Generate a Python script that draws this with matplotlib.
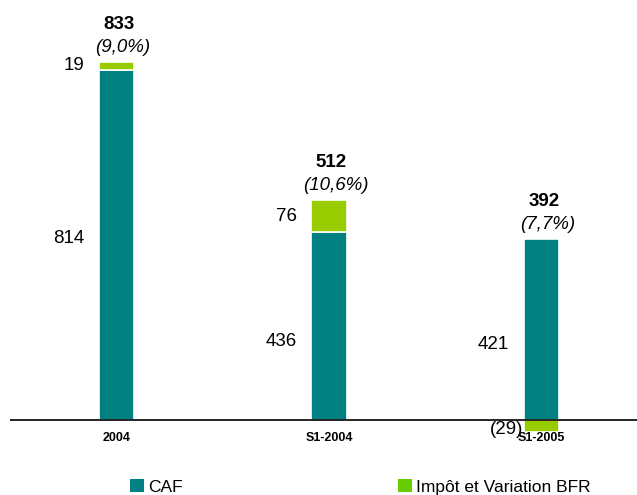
import matplotlib
matplotlib.use("Agg")
import matplotlib.pyplot as plt
from matplotlib.patches import Patch

# Data
periods = ["2004", "S1-2004", "S1-2005"]
caf = [814, 436, 421]
impot_bfr = [19, 76, -29]
totals = [833, 512, 392]
rates = ["(9,0%)", "(10,6%)", "(7,7%)"]
impot_labels = ["19", "76", "(29)"]

teal = "#008080"
green_bar = "#99CC00"
green_legend = "#66CC00"

plt.rcParams["font.family"] = ["Liberation Sans", "DejaVu Sans"]

fig = plt.figure(figsize=(6.37, 4.95), dpi=100)
ax = fig.add_axes([10 / 637, 0, 627 / 637, 1])

x = list(range(len(periods)))
width = 0.165

# stacked bars: CAF at the bottom, impot/BFR on top (or below zero when negative)
ax.bar(x, caf, width, color=teal, edgecolor="white", linewidth=1.2)
bottoms = [c if v >= 0 else 0 for c, v in zip(caf, impot_bfr)]
ax.bar(x, impot_bfr, width, bottom=bottoms, color=green_bar, edgecolor="white", linewidth=1.2)

ax.axhline(0, color="black", linewidth=1.2)

ax.set_xlim(-0.501, 2.449)
ax.set_ylim(-175, 977)
ax.axis("off")

off = 0.07
for i in x:
    # CAF value, left of the bar, near the middle
    ax.text(i - width / 2 - off, caf[i] / 2 + (15 if i == 0 else -35), str(caf[i]),
            ha="right", va="center", fontsize=13.5)
    # impot/BFR value, left of the bar
    if impot_bfr[i] >= 0:
        y_imp = caf[i] + impot_bfr[i] / 2
        ax.text(i - width / 2 - off, y_imp, impot_labels[i],
                ha="right", va="center", fontsize=13.5)
    else:
        ax.text(i - width / 2 - 0.005, -22, impot_labels[i],
                ha="right", va="center", fontsize=13.5)
    # total and margin above the bar
    top = max(totals[i], caf[i] + max(impot_bfr[i], 0))
    ax.text(i + 0.01, top + 87, str(totals[i]), ha="center", va="center",
            fontsize=13.5, fontweight="bold")
    ax.text(i + 0.03, top + 34, rates[i], ha="center", va="center",
            fontsize=13.5, fontstyle="italic")
    # category label under the axis
    ax.text(i, -42, periods[i], ha="center", va="center", fontsize=9,
            fontweight="bold")

# legend, two separate entries as in the reference
fig.legend(handles=[Patch(facecolor=teal, label="CAF")], loc="center left",
           bbox_to_anchor=(123 / 637, 8 / 495), frameon=False, fontsize=12.5,
           handlelength=0.8, handleheight=0.75, handletextpad=0.25, borderaxespad=0)
fig.legend(handles=[Patch(facecolor=green_legend, label="Impôt et Variation BFR")],
           loc="center left", bbox_to_anchor=(391 / 637, 8 / 495), frameon=False,
           fontsize=12.5, handlelength=0.8, handleheight=0.75, handletextpad=0.25,
           borderaxespad=0)

fig.savefig("out.png", dpi=100)
